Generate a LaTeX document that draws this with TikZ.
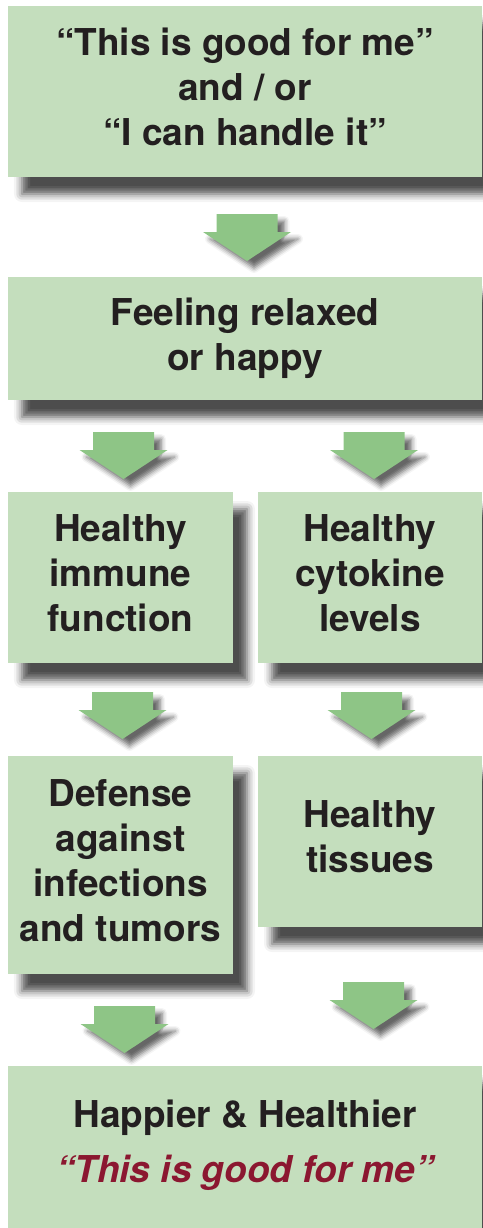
\documentclass[tikz,border=0pt]{standalone}
\usepackage{fontspec}
\setmainfont{TeX Gyre Heros}
\usetikzlibrary{shadows.blur}
\definecolor{boxgreen}{HTML}{C4DEBD}
\definecolor{arrowgreen}{HTML}{8EC586}
\definecolor{inkblack}{HTML}{231F20}
\definecolor{wine}{HTML}{8B1730}

\tikzset{
  stepbox/.style={fill=boxgreen, text=inkblack, align=center, inner sep=0pt,
    text depth=9pt, font=\fontsize{37}{45}\selectfont\bfseries,
    blur shadow={shadow xshift=14pt, shadow yshift=-17pt, shadow blur radius=8pt, shadow opacity=70}},
  downarrow/.pic={
    \fill[arrowgreen, blur shadow={shadow xshift=7pt, shadow yshift=-7pt, shadow blur radius=5pt, shadow opacity=60}]
      (-30.5,0) -- (30.5,0) -- (30.5,18) -- (44,18) -- (0,47) -- (-44,18) -- (-30.5,18) -- cycle;
  }
}

\begin{document}
\begin{tikzpicture}[x=1pt, y=-1pt]

\useasboundingbox (0,0) rectangle (482,1228);

% Boxes
\node[stepbox, minimum width=474pt, minimum height=171pt] (cope) at (245,91.5)
  {“This is good for me”\\and / or\\“I can handle it”};
\node[stepbox, minimum width=474pt, minimum height=123pt] (relax) at (245,338.5)
  {Feeling relaxed\\or happy};
\node[stepbox, minimum width=225pt, minimum height=171pt] (immune) at (120.5,577.5)
  {Healthy\\immune\\function};
\node[stepbox, minimum width=224pt, minimum height=171pt] (cytokine) at (370,577.5)
  {Healthy\\cytokine\\levels};
\node[stepbox, minimum width=225pt, minimum height=218pt] (defense) at (120.5,865)
  {Defense\\against\\infections\\and tumors};
\node[stepbox, minimum width=224pt, minimum height=171pt] (tissues) at (370,841.5)
  {Healthy\\tissues};
\node[stepbox, minimum width=474pt, minimum height=162pt, text depth=12pt] (happier) at (245,1147)
  {Happier \& Healthier\\[10pt]\textcolor{wine}{\itshape “This is good for me”}};

% Arrows
\pic at (247,214) {downarrow};
\pic at (123.5,432) {downarrow};
\pic at (374,432) {downarrow};
\pic at (122.5,692) {downarrow};
\pic at (371.5,692) {downarrow};
\pic at (124.5,1006) {downarrow};
\pic at (373.5,982) {downarrow};

\end{tikzpicture}
\end{document}
